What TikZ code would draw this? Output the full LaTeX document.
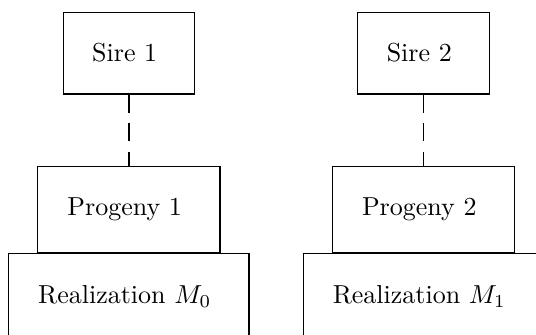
\documentclass[tikz,border=0pt]{standalone}
\usepackage{amsmath,amssymb}
\usepackage{tikz}
\usetikzlibrary{positioning}

\begin{document}
\begin{tikzpicture}[every node/.style = { draw, align = center, shape = rectangle },
    sirebox/.style = { minimum width = 50.6pt, minimum height = 31.5pt },
    progbox/.style = { minimum width = 70pt, minimum height = 33.1pt },
    realbox/.style = { minimum width = 92.3pt, minimum height = 33pt },
    link/.style = { dash pattern = on 7pt off 4pt }]
    \clip (-49.6pt,20.4pt) rectangle (156.5pt,-108.1pt);
     % left family
     \node [sirebox] (sire1) at (0,0) { Sire 1 };
     \node [progbox, below = 27.3pt of sire1] (prog1) { Progeny 1 };
     \node [realbox, below = 0pt of prog1] (real1) { Realization $M_0$ };
     % right family
     \node [sirebox] (sire2) at (113.3pt,0) { Sire 2 };
     \node [progbox, below = 27.3pt of sire2] (prog2) { Progeny 2 };
     \node [realbox, below = 0pt of prog2] (real2) { Realization $M_1$ };
     \draw [link] (sire1) -- (prog1);
     \draw [link] (sire2) -- (prog2);
    \end{tikzpicture}
\end{document}
